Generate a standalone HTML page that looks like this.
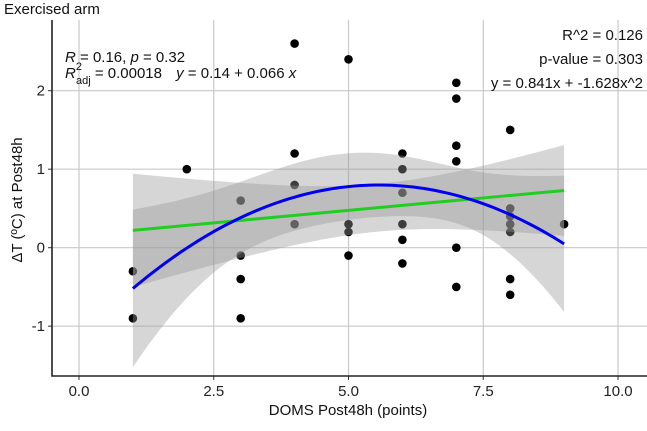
<!DOCTYPE html>
<html><head><meta charset="utf-8"><style>
body{margin:0;background:#fff}
svg text{font-family:"Liberation Sans",sans-serif}
</style></head><body>
<svg id="chart" width="647" height="426" xmlns="http://www.w3.org/2000/svg">
<text x="4" y="14" font-size="15" fill="#111">Exercised arm</text>
<g id="grid"></g>
<g id="bands"></g>
<g id="lines"></g>
<g id="pts"></g>
<g id="axes"></g>
<text x="65" y="62" font-size="15" fill="#111"><tspan font-style="italic">R</tspan> = 0.16, <tspan font-style="italic">p</tspan> = 0.32</text>
<text x="65" y="78" font-size="15" fill="#111"><tspan font-style="italic">R</tspan><tspan font-size="11" dy="-8" dx="0">2</tspan><tspan font-size="11" dy="14" dx="-6">adj</tspan><tspan dy="-6"> = 0.00018 </tspan><tspan dx="10" font-style="italic">y</tspan> = 0.14 + 0.066 <tspan font-style="italic">x</tspan></text>
<text x="643" y="40" font-size="15" fill="#111" text-anchor="end">R^2 = 0.126</text>
<text x="643" y="64" font-size="15" fill="#111" text-anchor="end">p-value = 0.303</text>
<text x="643" y="88" font-size="15" fill="#111" text-anchor="end">y = 0.841x + -1.628x^2</text>
<text x="348" y="415" font-size="15" fill="#111" text-anchor="middle">DOMS Post48h (points)</text>
<text transform="translate(22,200) rotate(-90)" font-size="15" fill="#111" text-anchor="middle">ΔT (ºC) at Post48h</text>
</svg>
<script>
const xs = [1,1,2,3,3,3,3,4,4,4,4,5,5,5,5,6,6,6,6,6,6,7,7,7,7,7,7,8,8,8,8,8,8,8,9];
const ys = [-0.3,-0.9,1.0,0.6,-0.1,-0.4,-0.9,2.6,1.2,0.8,0.3,2.4,0.3,0.2,-0.1,1.2,1.0,0.7,0.3,0.1,-0.2,2.1,1.9,1.3,1.1,0,-0.5,1.5,0.5,0.4,0.3,0.2,-0.4,-0.6,0.3];
const xTicks = [0,2.5,5,7.5,10];
const xTickLabels = ["0.0","2.5","5.0","7.5","10.0"];
const yTicks = [-1,0,1,2];
const yTickLabels = ["-1","0","1","2"];
const NS="http://www.w3.org/2000/svg";
const L=52,R=647,T=20,B=376;
function sx(v){return 79+v*53.9;}
function sy(v){return 247.7-v*78.5;}
function mk(p,tag,at){const e=document.createElementNS(NS,tag);for(const k in at)e.setAttribute(k,at[k]);document.getElementById(p).appendChild(e);return e;}
xTicks.forEach((t,i)=>{
  const g=mk('grid','line',{x1:sx(t),x2:sx(t),y1:T,y2:B,stroke:'#c8c8c8','stroke-width':1.2});
  
  
  const tk=mk('axes','line',{x1:sx(t),x2:sx(t),y1:B,y2:B+4,stroke:'#333'});
  
  
  const tx=mk('axes','text',{x:sx(t),y:B+20,'font-size':15,fill:'#222','text-anchor':'middle'});
  tx.textContent=xTickLabels[i];
  
  
});
yTicks.forEach((t,i)=>{
  const g=mk('grid','line',{x1:L,x2:R,y1:sy(t),y2:sy(t),stroke:'#c8c8c8','stroke-width':1.2});
  
  
  const tk=mk('axes','line',{x1:L-4,x2:L,y1:sy(t),y2:sy(t),stroke:'#333'});
  
  
  const tx=mk('axes','text',{x:L-7,y:sy(t)+5,'font-size':15,fill:'#222','text-anchor':'end'});
  tx.textContent=yTickLabels[i];
  
  
});
const ax=mk('axes','path',{d:`M${L},${T} V${B} H${R}`,fill:'none',stroke:'#222','stroke-width':1.6});


function inv(M){const n=M.length;const A=M.map((r,i)=>r.concat(Array.from({length:n},(_,j)=>i===j?1:0)));
 for(let i=0;i<n;i++){let p=i;for(let k=i+1;k<n;k++)if(Math.abs(A[k][i])>Math.abs(A[p][i]))p=k;[A[i],A[p]]=[A[p],A[i]];
  const d=A[i][i];for(let j=0;j<2*n;j++)A[i][j]/=d;
  for(let k=0;k<n;k++)if(k!==i){const f=A[k][i];for(let j=0;j<2*n;j++)A[k][j]-=f*A[i][j];}}
 return A.map(r=>r.slice(n));}
function fit(deg){const p=deg+1,n=xs.length;const X=xs.map(x=>Array.from({length:p},(_,j)=>Math.pow(x,j)));
 const XtX=Array.from({length:p},(_,i)=>Array.from({length:p},(_,j)=>X.reduce((s,r)=>s+r[i]*r[j],0)));
 const Xty=Array.from({length:p},(_,i)=>X.reduce((s,r,k)=>s+r[i]*ys[k],0));
 const Inv=inv(XtX);const b=Inv.map(r=>r.reduce((s,v,j)=>s+v*Xty[j],0));
 let rss=0;X.forEach((r,k)=>{const f=r.reduce((s,v,j)=>s+v*b[j],0);rss+=(ys[k]-f)**2;});
 const s2=rss/(n-p);const t=2.035;
 const up=[],lo=[],mid=[];
 for(let i=0;i<=80;i++){const x=1+8*i/80;const v=Array.from({length:p},(_,j)=>Math.pow(x,j));
  const f=v.reduce((s,a,j)=>s+a*b[j],0);let q=0;for(let a=0;a<p;a++)for(let c=0;c<p;c++)q+=v[a]*Inv[a][c]*v[c];
  const h=t*Math.sqrt(s2*q);mid.push([sx(x),sy(f)]);up.push([sx(x),sy(f+h)]);lo.push([sx(x),sy(f-h)]);}
 return {mid,up,lo};}
const lin=fit(1),quad=fit(2);
function band(f,name){const d='M'+f.up.map(p=>p.join(',')).join('L')+'L'+f.lo.slice().reverse().map(p=>p.join(',')).join('L')+'Z';
 const e=mk('bands','path',{d,fill:'#999','fill-opacity':0.4});
 
 }
band(quad,'quadratic-band');band(lin,'linear-band');
xs.forEach((x,i)=>{const c=mk('pts','circle',{cx:sx(x),cy:sy(ys[i]),r:4.3,fill:'#000'});
 
 });
document.getElementById('chart').insertBefore(document.getElementById('pts'),document.getElementById('bands'));
function line(f,col,name){const e=mk('lines','path',{d:'M'+f.mid.map(p=>p.join(',')).join('L'),fill:'none',stroke:col,'stroke-width':3});
 
 }
line(lin,'#22cc22','linear-fit-line');line(quad,'#0000ee','quadratic-fit-line');
</script>
</body></html>
